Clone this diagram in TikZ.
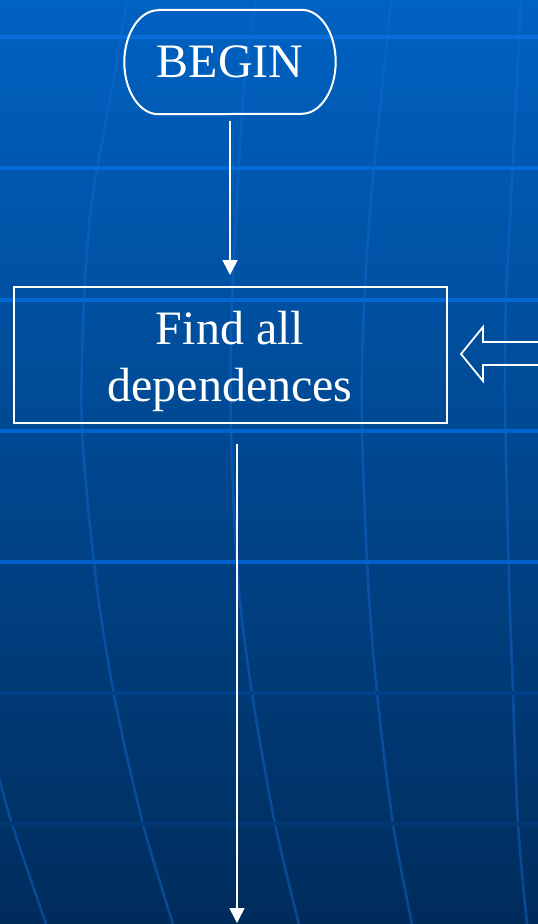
\documentclass[tikz,border=0pt]{standalone}
\usepackage{fontspec}
\setmainfont{Liberation Serif}
\usetikzlibrary{arrows.meta,calc}
\definecolor{bgtop}{RGB}{0,98,194}
\definecolor{bgbot}{RGB}{0,44,92}
\definecolor{gridv}{RGB}{20,105,210}
\tikzset{
  flow/.style={draw=white, line width=1.6pt, -{Triangle[width=15pt,length=15pt]}},
  boxline/.style={draw=white, line width=2pt},
  txt/.style={text=white, font=\fontsize{48}{57}\selectfont, inner sep=0pt},
  meridian/.style={draw=gridv, draw opacity=0.45, line width=2.6pt},
}
\begin{document}
\begin{tikzpicture}[x=1pt,y=-1pt]
\useasboundingbox (0,0) rectangle (538,924);
% background gradient
\shade[top color=bgtop, bottom color=bgbot] (0,0) rectangle (538,924);
% curved grid lines
\draw[meridian] plot[smooth] coordinates {(127,0) (110,100) (92,200) (84,300) (82,430) (96,580) (115,700) (143,824) (173,924)};
\draw[meridian] plot[smooth] coordinates {(256,0) (243,100) (232,300) (231,430) (238,580) (252,693) (275,824) (299,924)};
\draw[meridian] plot[smooth] coordinates {(391,0) (371,200) (363,330) (362,430) (368,580) (377,693) (393,824) (412,924)};
\draw[meridian] plot[smooth] coordinates {(521,0) (511,200) (506,300) (505,400) (509,580) (513,693) (518,824) (527,924)};
\draw[meridian] plot[smooth] coordinates {(-2,774) (12,824) (46,924)};
% horizontal grid lines
\foreach \y/\r/\g/\b in {37/8/110/218, 168/5/106/214, 300/3/104/212, 431/0/100/208, 562/0/96/204, 693/0/66/138, 824/0/56/118}{
  \definecolor{hline}{RGB}{\r,\g,\b}
  \draw[hline, line width=3.5pt] (0,\y) -- (538,\y);
}
% start terminal
\node[txt, minimum width=211pt, minimum height=104pt] (begin) at (230,62) {BEGIN};
\draw[boxline] ($(begin.north west)+(34,0)$) -- ($(begin.north east)+(-34,0)$)
  arc[start angle=-90, end angle=90, x radius=34, y radius=52]
  -- ($(begin.south west)+(34,0)$)
  arc[start angle=90, end angle=270, x radius=34, y radius=52] -- cycle;
% process box
\node[boxline, minimum width=433pt, minimum height=136pt, inner sep=0pt] (find) at (230,355) {};
\node[txt, align=center] (findtext) at ($(find.center)+(0,6.3)$) {Find all\\dependences};
% connectors
\draw[flow, shorten <=7pt, shorten >=11pt] (begin) -- (find);
\coordinate (end) at (237,923);
\draw[flow] ($(find.south -| end)+(0,20)$) -- (end);
% incoming block arrow
\coordinate (feed) at (461,354);
\draw[white, line width=1.8pt, line join=miter]
  ($(feed)+(77,-12)$) -- ($(feed)+(22,-12)$) -- ($(feed)+(22,-27)$) -- (feed)
  -- ($(feed)+(22,27)$) -- ($(feed)+(22,11)$) -- ($(feed)+(77,11)$);
\end{tikzpicture}
\end{document}
